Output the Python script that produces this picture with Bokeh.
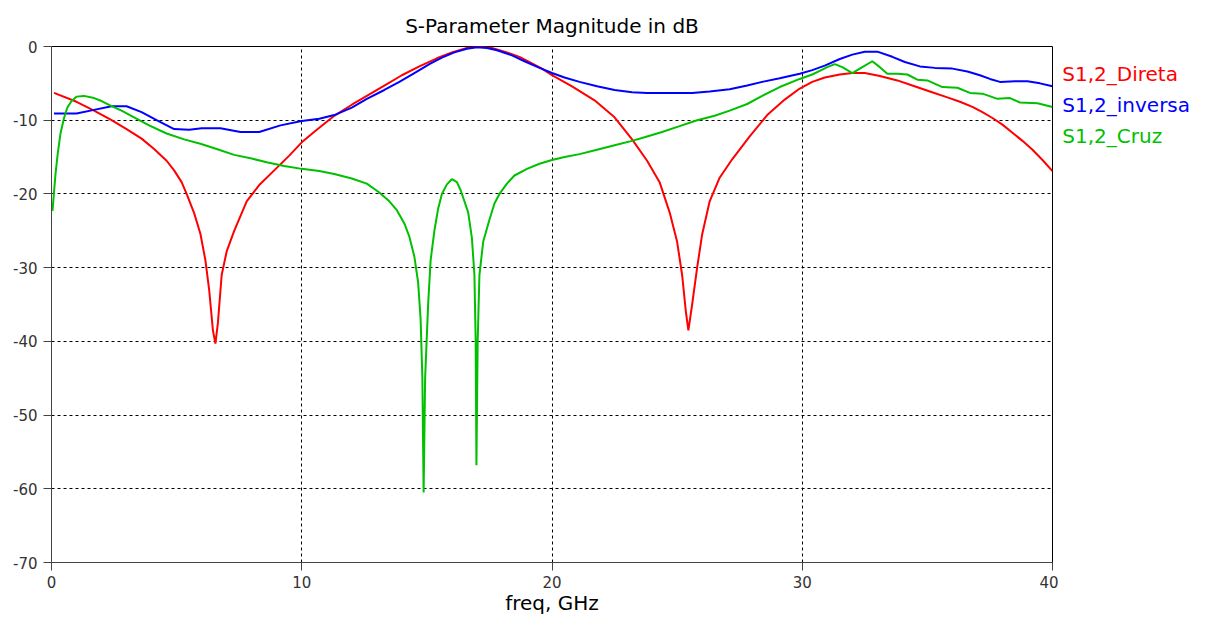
from bokeh.plotting import figure
from bokeh.models import Range1d, FixedTicker
from bokeh.layouts import row
from bokeh.core.properties import value
from bokeh.embed import file_html
from bokeh.resources import INLINE

# ---- data ----
direta_f = [0.1, 1.0, 1.7, 2.4, 3.0, 3.6, 4.1, 4.6, 4.9, 5.2, 5.4, 5.7, 5.95, 6.15, 6.3, 6.45, 6.55, 6.65,
            6.8, 7.0, 7.3, 7.8, 8.3, 8.9, 9.5, 10.0, 10.6, 11.3, 12.0, 12.6, 13.3, 14.0, 14.7, 15.4, 16.0,
            16.6, 17.1, 17.6, 18.2, 18.7, 19.2, 19.6, 20.0, 20.8, 21.7, 22.5, 23.2, 23.8, 24.3, 24.7, 25.0,
            25.2, 25.35, 25.45, 25.6, 25.8, 26.0, 26.3, 26.7, 27.2, 27.9, 28.6, 29.3, 29.9, 30.4, 30.9, 31.5,
            32.0, 32.5, 33.1, 33.8, 34.4, 35.1, 35.8, 36.3, 36.8, 37.2, 37.6, 38.0, 38.4, 38.8, 39.2, 39.6, 40.0]
direta_db = [-6.3, -7.5, -8.7, -10.0, -11.2, -12.5, -13.9, -15.5, -16.8, -18.4, -20.0, -22.6, -25.4, -29.0,
             -33.0, -38.5, -40.3, -37.5, -31.0, -27.8, -25.0, -21.0, -18.8, -16.8, -14.8, -13.0, -11.3, -9.4,
             -7.9, -6.7, -5.3, -3.9, -2.7, -1.6, -0.8, -0.2, 0.0, -0.2, -0.8, -1.4, -2.3, -3.0, -3.9, -5.4,
             -7.3, -9.6, -12.6, -15.5, -18.4, -22.5, -26.5, -31.0, -36.0, -38.5, -35.0, -30.0, -25.5, -21.0,
             -17.8, -15.3, -12.2, -9.3, -7.2, -5.7, -4.8, -4.2, -3.8, -3.6, -3.6, -4.0, -4.6, -5.3, -6.1, -6.9,
             -7.5, -8.2, -8.9, -9.7, -10.6, -11.7, -12.8, -14.0, -15.4, -16.9]

inversa_f = [0.1, 1.0, 1.7, 2.4, 3.0, 3.6, 4.2, 4.9, 5.5, 6.0, 6.75, 7.55, 8.3, 9.15, 10.0, 10.7, 11.3, 12.0,
             12.6, 13.3, 13.9, 14.5, 15.1, 15.6, 16.1, 16.6, 17.0, 17.4, 17.8, 18.4, 18.9, 19.5, 20.0, 20.5,
             21.1, 21.8, 22.5, 23.2, 23.8, 24.7, 25.6, 26.3, 27.1, 27.8, 28.4, 29.1, 29.9, 30.4, 30.9, 31.5,
             32.0, 32.5, 33.0, 33.6, 34.1, 34.7, 35.3, 36.0, 36.6, 37.1, 37.5, 37.9, 38.5, 39.0, 39.5, 40.0]
inversa_db = [-9.1, -9.1, -8.6, -8.1, -8.1, -8.9, -10.0, -11.2, -11.3, -11.1, -11.1, -11.6, -11.6, -10.7,
              -10.1, -9.8, -9.3, -8.3, -7.1, -5.9, -4.8, -3.6, -2.4, -1.5, -0.8, -0.3, -0.1, -0.2, -0.5,
              -1.2, -2.0, -2.9, -3.6, -4.2, -4.8, -5.4, -5.9, -6.2, -6.3, -6.3, -6.3, -6.1, -5.8, -5.3, -4.8,
              -4.3, -3.7, -3.2, -2.6, -1.7, -1.1, -0.7, -0.7, -1.4, -2.1, -2.7, -2.9, -3.0, -3.4, -3.9, -4.4,
              -4.8, -4.7, -4.7, -5.0, -5.4]

cruz_f = [0.04, 0.1, 0.16, 0.25, 0.36, 0.5, 0.63, 0.8, 1.0, 1.3, 1.7, 2.0, 2.4, 2.8, 3.3, 3.9, 4.6, 5.3, 5.95,
          6.6, 7.3, 8.0, 8.6, 9.3, 10.0, 10.7, 11.3, 12.0, 12.6, 13.1, 13.5, 13.8, 14.1, 14.3, 14.5, 14.65,
          14.75, 14.82, 14.87, 14.93, 15.05, 15.15, 15.3, 15.45, 15.6, 15.8, 16.0, 16.2, 16.35, 16.5, 16.65,
          16.8, 16.9, 16.95, 16.98, 17.03, 17.1, 17.25, 17.5, 17.7, 17.9, 18.2, 18.5, 19.0, 19.5, 20.0, 20.5,
          21.1, 21.8, 22.5, 23.2, 23.8, 24.4, 25.1, 25.8, 26.5, 27.1, 27.8, 28.4, 29.1, 29.9, 30.4, 30.7,
          31.0, 31.3, 31.6, 32.0, 32.4, 32.8, 33.1, 33.4, 33.8, 34.2, 34.6, 35.0, 35.6, 36.2, 36.7, 37.2,
          37.8, 38.3, 38.7, 39.4, 40.0]
cruz_db = [-22.3, -19.8, -17.3, -14.5, -11.8, -9.7, -8.3, -7.4, -6.8, -6.7, -7.0, -7.4, -8.1, -8.7, -9.6,
           -10.7, -11.8, -12.6, -13.2, -13.9, -14.7, -15.2, -15.7, -16.2, -16.6, -16.9, -17.3, -17.9, -18.6,
           -19.8, -21.0, -22.2, -24.0, -25.8, -28.5, -32.0, -37.0, -45.0, -60.5, -45.0, -35.0, -29.0, -25.0,
           -22.0, -20.0, -18.7, -18.0, -18.4, -19.5, -21.0, -22.5, -26.0, -31.0, -40.0, -56.8, -40.0, -31.0,
           -26.5, -23.5, -21.3, -20.0, -18.6, -17.5, -16.6, -15.9, -15.4, -15.0, -14.6, -14.0, -13.4, -12.8,
           -12.2, -11.6, -10.8, -10.0, -9.4, -8.7, -7.8, -6.7, -5.5, -4.4, -3.8, -3.3, -2.8, -2.4, -2.8,
           -3.6, -2.8, -2.0, -2.8, -3.7, -3.7, -3.8, -4.5, -4.6, -5.5, -5.6, -6.3, -6.4, -7.1, -7.0, -7.6,
           -7.7, -8.2]

x_ticks = [0, 10, 20, 30, 40]
y_ticks = [-70, -60, -50, -40, -30, -20, -10, 0]
y_tick_labels = ["-70", "-60", "-50", "-40", "-30", "-20", "-10", "0"]

series_names = ["S1,2_Direta", "S1,2_inversa", "S1,2_Cruz"]
series_f = [direta_f, inversa_f, cruz_f]
series_db = [direta_db, inversa_db, cruz_db]
series_colors = ["#FF0000", "#0000FF", "#00C000"]
# vertical positions (in dB units of the shared y scale) of the legend texts
legend_y = [-3.7, -7.9, -12.1]

FONT = "DejaVu Sans"
W, H = 1209, 617
MAIN_W = 1058
TOP, BOTTOM = 46, 55

p = figure(width=MAIN_W, height=H, output_backend="svg", toolbar_location=None,
           x_range=Range1d(0, 40), y_range=Range1d(-70, 0),
           title="S-Parameter Magnitude in dB",
           min_border_left=51, min_border_right=MAIN_W - 1052,
           min_border_top=TOP, min_border_bottom=BOTTOM)

p.background_fill_color = "white"
p.border_fill_color = "white"
p.outline_line_color = "black"
p.outline_line_width = 1

p.title.align = "center"
p.title.text_font = FONT
p.title.text_font_size = "20px"
p.title.text_font_style = "normal"
p.title.text_color = "black"
p.title.standoff = 17
p.title.offset = (1052 + 51) / 2 - MAIN_W / 2  # keep centred on the frame

for ax in (p.xaxis[0], p.yaxis[0]):
    ax.major_tick_out = 8
    ax.major_tick_in = 0
    ax.minor_tick_line_color = None
    ax.axis_line_color = "#444444"
    ax.major_tick_line_color = "#444444"
    ax.major_label_text_font = FONT
    ax.major_label_text_font_size = "15px"
    ax.major_label_text_color = "#333333"

p.xaxis.ticker = FixedTicker(ticks=x_ticks)
p.yaxis.ticker = FixedTicker(ticks=y_ticks)
p.yaxis.major_label_overrides = {t: s for t, s in zip(y_ticks, y_tick_labels)}
p.xaxis.axis_label = "freq, GHz"
p.xaxis.axis_label_text_font = FONT
p.xaxis.axis_label_text_font_size = "20px"
p.xaxis.axis_label_text_font_style = "normal"
p.xaxis.axis_label_text_color = "black"
p.xaxis.axis_label_standoff = 0
p.xaxis.major_label_standoff = 5
p.yaxis.major_label_standoff = 6

p.xgrid[0].ticker = p.xaxis[0].ticker
p.ygrid[0].ticker = p.yaxis[0].ticker
for g in (p.xgrid[0], p.ygrid[0]):
    g.grid_line_color = "black"
    g.grid_line_dash = "3 3"
    g.grid_line_width = 1

for f, db, col in zip(series_f, series_db, series_colors):
    p.line(f, db, line_color=col, line_width=2)

# legend panel to the right, sharing the vertical scale
q = figure(width=W - MAIN_W, height=H, output_backend="svg", toolbar_location=None,
           x_range=Range1d(0, 1), y_range=p.y_range,
           min_border_left=0, min_border_right=0, min_border_top=TOP, min_border_bottom=BOTTOM)
q.axis.visible = False
q.grid.visible = False
q.outline_line_color = None
q.background_fill_color = "white"
q.border_fill_color = "white"
q.text(x=[0.025] * 3, y=legend_y, text=series_names, text_color=series_colors,
       text_font=value(FONT), text_font_size="20px", text_baseline="middle", text_align="left")

layout = row(p, q, spacing=0)
open("out.html", "w").write(file_html(layout, INLINE))
